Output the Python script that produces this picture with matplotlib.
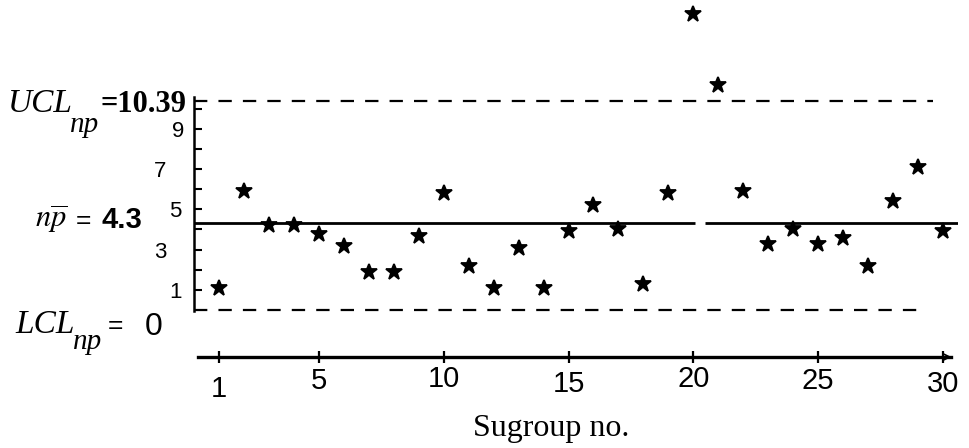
import matplotlib
matplotlib.use("Agg")
import matplotlib.pyplot as plt

# np control chart data
subgroups = list(range(1, 31))
np_values = [1.1, 5.9, 4.2, 4.2, 3.8, 3.2, 1.9, 1.9, 3.7, 5.8,
             2.2, 1.1, 3.1, 1.1, 3.9, 5.2, 4.0, 1.3, 5.8, 14.7,
             11.2, 5.9, 3.3, 4.0, 3.3, 3.6, 2.2, 5.4, 7.1, 3.9]
ucl = 10.39
center = 4.3
lcl = 0

xtick_vals = [1, 5, 10, 15, 20, 25, 30]
xtick_labels = ["1", "5", "10", "15", "20", "25", "30"]
ytick_vals = [1, 3, 5, 7, 9]
ytick_labels = ["1", "3", "5", "7", "9"]
yminor_vals = [2, 4, 6, 8, 10]

serif = "Liberation Serif"
sans = "Liberation Sans"

fig = plt.figure(figsize=(9.69, 4.48), dpi=100)
fig.patch.set_facecolor("white")
ax = fig.add_axes([194 / 969, 1 - 357 / 448, 764 / 969, 357 / 448])
ax.set_xlim(0, 30.6)
ax.set_ylim(-2.34, 15.41)
ax.patch.set_alpha(0)

# control limits and centre line
ax.hlines(ucl, 0, 29.6, colors="black", linewidth=1.6, linestyles=(0, (6, 5)))
ax.hlines(lcl, 0, 29.3, colors="black", linewidth=1.6, linestyles=(0, (6, 5)))
ax.hlines(center, 0, 20.06, colors="black", linewidth=2.0)
ax.hlines(center, 20.46, 30.6, colors="black", linewidth=2.0)

# subgroup values
ax.plot(subgroups, np_values, linestyle="none", marker="*", markersize=12,
        color="black", markeredgewidth=1.3, clip_on=False, zorder=5)

# spines
for side in ("top", "right"):
    ax.spines[side].set_visible(False)
ax.spines["left"].set_bounds(-0.05, 10.6)
ax.spines["left"].set_linewidth(1.8)
ax.spines["bottom"].set_bounds(0.15, 30.3)
ax.spines["bottom"].set_linewidth(2.4)
ax.annotate("", xy=(30.45, 0), xytext=(30.0, 0),
            xycoords=ax.get_xaxis_transform(),
            arrowprops=dict(arrowstyle="->", color="black", lw=1.2),
            annotation_clip=False)

# x axis ticks
ax.set_xticks(xtick_vals, xtick_labels)
ax.tick_params(axis="x", direction="inout", length=8, width=1.6,
               labelsize=21, colors="black")
for lab in ax.get_xticklabels():
    lab.set_fontfamily(sans)
for tick, pad in zip(ax.xaxis.get_major_ticks(), [9.0, 3.5, 1.5, 5.0, 1.5, 3.5, 5.5]):
    tick.set_pad(pad)

# y axis ticks
ax.set_yticks(ytick_vals, ytick_labels)
ax.set_yticks(yminor_vals, minor=True)
ax.tick_params(axis="y", which="both", direction="in", length=6, width=1.5,
               labelsize=16, colors="black")
for lab in ax.get_yticklabels():
    lab.set_fontfamily(sans)
for tick, pad in zip(ax.yaxis.get_major_ticks(), [9, 20, 9, 20, 7]):
    tick.set_pad(pad)

ax.set_xlabel("Sugroup no.", fontsize=23, family=serif, labelpad=4)
ax.xaxis.set_label_coords((551 - 194) / 764, -0.16)

# limit labels on the left
def fx(px):
    return px / 969

def fy(px):
    return 1 - px / 448

fig.text(fx(8), fy(112), "UCL", family=serif, style="italic", fontsize=24,
         va="baseline", ha="left")
fig.text(fx(70), fy(132), "np", family=serif, style="italic", fontsize=21,
         va="baseline", ha="left")
fig.text(fx(187), fy(112), "=10.39", family=serif, weight="bold", fontsize=22,
         va="baseline", ha="right")

fig.text(fx(35), fy(228), r"$n\overline{p}$", fontsize=22, va="baseline",
         ha="left", math_fontfamily="stix")
fig.text(fx(76), fy(228), "=", family=sans, fontsize=19, va="baseline", ha="left")
fig.text(fx(101), fy(228), "4.3", family=sans, weight="bold", fontsize=21,
         va="baseline", ha="left")

fig.text(fx(15), fy(333), "LCL", family=serif, style="italic", fontsize=24,
         va="baseline", ha="left")
fig.text(fx(73), fy(349), "np", family=serif, style="italic", fontsize=21,
         va="baseline", ha="left")
fig.text(fx(108), fy(333), "=", family=sans, fontsize=19, va="baseline", ha="left")
fig.text(fx(145), fy(335), "0", family=sans, fontsize=23, va="baseline", ha="left")

fig.savefig("out.png", dpi=100, facecolor="white")
